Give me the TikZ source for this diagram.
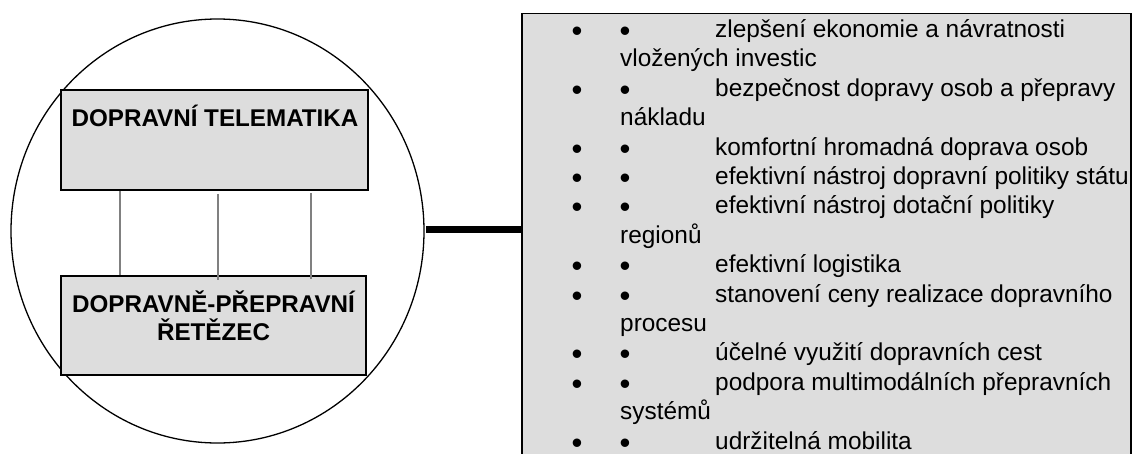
\documentclass[tikz,border=0pt]{standalone}
\usepackage{fontspec}
\setmainfont{Liberation Sans}
\usetikzlibrary{shapes.geometric}
\definecolor{boxgray}{RGB}{221,221,221}
\definecolor{linkgray}{RGB}{128,128,128}
\begin{document}
\begin{tikzpicture}[x=1pt,y=-1pt,
  panel/.style={draw=black,line width=1.6pt,fill=boxgray,rectangle,inner sep=0pt},
  headtxt/.style={inner sep=0pt,anchor=base,font=\fontsize{24.2}{28}\selectfont\bfseries},
  itemtxt/.style={inner sep=0pt,anchor=base west,font=\fontsize{24.4}{29.4}\selectfont},
  dot/.style={inner sep=0pt,anchor=base,yshift=-4pt,font=\fontsize{31}{31}\selectfont},
  link/.style={draw=linkgray,line width=1.3pt}]
\useasboundingbox (0,0) rectangle (1132,453);
\clip (0,0) rectangle (1132,453);
% circle
\node[draw=black,line width=1.3pt,ellipse,minimum width=413pt,minimum height=424pt,inner sep=0pt] (circ) at (217.5,231) {};
% boxes
\node[panel,minimum width=307pt,minimum height=100pt] (tele) at (214.5,140) {};
\node[headtxt] (teletxt) at (215,126) {DOPRAVNÍ TELEMATIKA};
\node[panel,minimum width=305pt,minimum height=99pt] (chain) at (213.5,325.5) {};
\node[headtxt] (chaintxt1) at (213.5,312) {DOPRAVNĚ-PŘEPRAVNÍ};
\node[headtxt] (chaintxt2) at (213.5,340) {ŘETĚZEC};
% links
\draw[link] (tele.south -| 120,0) -- (chain.north -| 120,0);
\draw[link] ([yshift=-3pt]tele.south -| 218,0) -- ([yshift=-5pt]chain.north -| 218,0);
\draw[link] ([yshift=-2pt]tele.south -| 311,0) -- ([yshift=-4pt]chain.north -| 311,0);
% right list panel
\node[panel,minimum width=609pt,minimum height=470pt,anchor=north west] (list) at (521,12.5) {};
\coordinate (cedge) at (426,229.5);
\draw[line width=7pt] (cedge) -- (list.west |- cedge);
% list rows
\foreach \i/\b/\t in {
 0/1/zlepšení ekonomie a návratnosti,
 1/0/vložených investic,
 2/1/bezpečnost dopravy osob a přepravy,
 3/0/nákladu,
 4/1/komfortní hromadná doprava osob,
 5/1/efektivní nástroj dopravní politiky státu,
 6/1/efektivní nástroj dotační politiky,
 7/0/regionů,
 8/1/efektivní logistika,
 9/1/stanovení ceny realizace dopravního,
 10/0/procesu,
 11/1/účelné využití dopravních cest,
 12/1/podpora multimodálních přepravních,
 13/0/systémů,
 14/1/udržitelná mobilita}{
  \pgfmathsetmacro{\yy}{37.5+29.4*\i}
  \ifnum\b=1
    \node[dot] (da\i) at (577,\yy) {•};
    \node[dot] (db\i) at (625,\yy) {•};
    \node[itemtxt] (it\i) at (715,\yy) {\t};
  \else
    \node[itemtxt] (it\i) at (620,\yy) {\t};
  \fi
}
\end{tikzpicture}
\end{document}
